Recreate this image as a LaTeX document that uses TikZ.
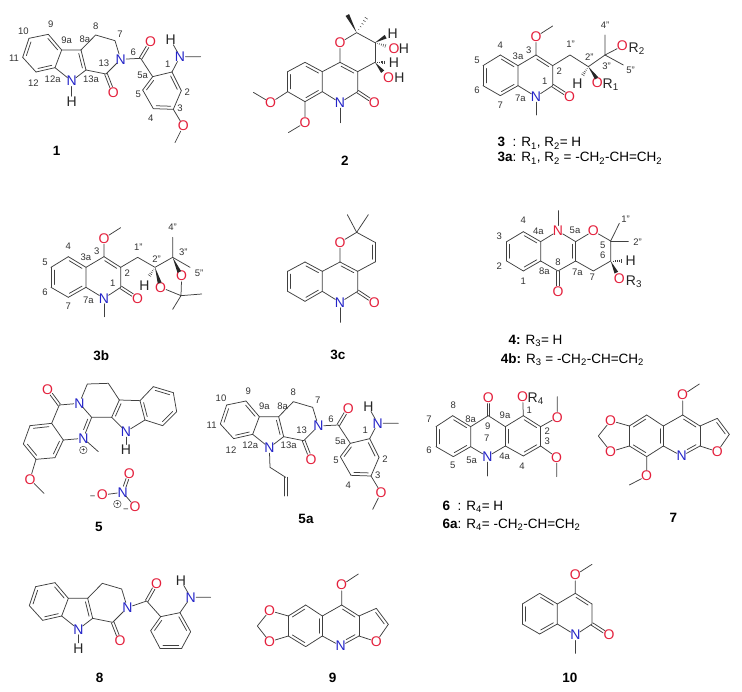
\documentclass[tikz,border=0pt]{standalone}
\usepackage{fontspec}
\setmainfont{Liberation Sans}
\usetikzlibrary{calc}
\definecolor{bondc}{HTML}{404040}
\definecolor{oxy}{HTML}{E4203C}
\definecolor{nit}{HTML}{2424C8}
\tikzset{
  bond/.style={draw=bondc,line width=.75pt,line cap=round,line join=round},
  atomK/.style={circle,inner sep=-1.2pt,font=\fontsize{14}{14}\selectfont,text=black!85},
  atomO/.style={atomK,text=oxy},
  atomN/.style={atomK,text=nit},
  atomNr/.style={atomK,text=oxy},
  num/.style={inner sep=0pt,font=\fontsize{9.5}{10}\selectfont,text=black!80},
  cpd/.style={inner sep=0pt,font=\fontsize{13.5}{14}\selectfont\bfseries},
  legend/.style={inner sep=0pt,anchor=west,font=\fontsize{13.5}{14}\selectfont},
  chg/.style={draw=bondc,line width=.5pt,circle,inner sep=0pt,minimum size=7.5pt,font=\fontsize{7}{7}\selectfont},
  mol/.style 2 args={shift={(#1pt,#2pt)},x=.33333pt,y=-.33333pt},
}
\newcounter{lab}
\newcommand\Cn[2]{\coordinate (#1) at (#2);}
\newcommand\At[4][atomK]{\node[#1] (#2) at (#3) {#4};}
\newcommand\Lb[2]{\stepcounter{lab}\node[num] (lab\thelab) at (#1) {#2};}
\newcommand\Bd[1]{\draw[bond] #1;}
\newcommand\dbL[3][]{\draw[bond] (#2)--(#3);\draw[bond,#1] ($(#2)!.14!(#3)!3pt!90:(#3)$)--($(#3)!.14!(#2)!3pt!-90:(#2)$);}
\newcommand\dbR[3][]{\draw[bond] (#2)--(#3);\draw[bond,#1] ($(#2)!.14!(#3)!3pt!-90:(#3)$)--($(#3)!.14!(#2)!3pt!90:(#2)$);}
\newcommand\dbC[3][shorten >=6pt]{\draw[bond,#1] ($(#2)!1.4pt!90:(#3)$)--($(#3)!1.4pt!-90:(#2)$);\draw[bond,#1] ($(#2)!1.4pt!-90:(#3)$)--($(#3)!1.4pt!90:(#2)$);}
\newcommand\Wdg[2]{\fill[bondc!60!black] (#1)--($(#2)!2pt!90:(#1)$)--($(#2)!2pt!-90:(#1)$)--cycle;}
\newcommand\Hsh[2]{\foreach \hh in {.18,.34,.5,.66,.82,1}{\pgfmathsetmacro\hw{\hh*2.2}\draw[bondc,line width=.5pt] ($(#1)!\hh!(#2)!\hw pt!90:(#2)$)--($(#1)!\hh!(#2)!\hw pt!-90:(#2)$);}}
% carboline part (frame of compound 1)
\newcommand\Carbo{%
 \Cn{c9}{145,103}\Cn{c10}{87,115}\Cn{c11}{68,172}\Cn{c12}{108,216}\Cn{c12a}{165,203}\Cn{c9a}{185,150}
 \Cn{c8a}{243,150}\Cn{c13a}{258,210}\Cn{c8}{287,105}\Cn{c7}{345,122}\Cn{c13}{318,222}
 \At[atomN]{ni}{215,243}{N}\At[atomN]{na}{362,178}{N}\At[atomO]{o13}{340,278}{O}
 \dbL{c9a}{c9}\Bd{(c9)--(c10)}\dbL{c10}{c11}\Bd{(c11)--(c12)}\dbL{c12}{c12a}\Bd{(c12a)--(c9a)--(c8a)}
 \dbR{c8a}{c13a}\Bd{(c13a)--(ni)--(c12a)}\Bd{(c8a)--(c8)--(c7)--(na)--(c13)--(c13a)}\dbC{c13}{o13}}
% carboxamide aryl with OMe and labels (compounds 1 and 5a)
\newcommand\Aryl{%
 \Cn{c6}{422,175}\Cn{c5a}{458,230}\Cn{c5}{428,270}\Cn{c4}{460,326}\Cn{c3}{520,328}\Cn{c2}{544,272}\Cn{c1}{516,216}
 \Cn{me}{602,170}\Cn{me3}{525,428}
 \At[atomO]{o6}{452,125}{O}\At[atomN]{nn}{540,170}{N}\At{hn}{512,120}{H}\At[atomO]{o3}{550,378}{O}
 \Bd{(na)--(c6)--(c5a)}\dbC{c6}{o6}\dbL{c5a}{c5}\Bd{(c5)--(c4)}\dbL{c4}{c3}\Bd{(c3)--(c2)}\dbL{c2}{c1}\Bd{(c1)--(c5a)}
 \Bd{(c1)--(nn)--(me)}\Bd{(nn)--(hn)}\Bd{(c3)--(o3)--(me3)}
 \Lb{152,73}{9}\Lb{70,95}{10}\Lb{42,175}{11}\Lb{100,250}{12}\Lb{158,237}{12a}\Lb{273,237}{13a}\Lb{200,120}{9a}\Lb{255,118}{8a}
 \Lb{287,78}{8}\Lb{360,102}{7}\Lb{400,157}{6}\Lb{312,190}{13}\Lb{428,225}{5a}\Lb{503,192}{1}\Lb{562,277}{2}\Lb{540,325}{3}\Lb{452,356}{4}\Lb{415,282}{5}}
% quinolone part (frame of compound 3b)
\newcommand\Quino{%
 \Cn{c4}{205,200}\Cn{c3a}{258,232}\Cn{c3}{312,200}\Cn{c2}{362,232}\Cn{c1}{362,292}\Cn{c7a}{258,292}\Cn{c7}{205,322}\Cn{c6}{153,292}\Cn{c5}{153,232}
 \Cn{nme}{312,380}\Cn{ome}{362,113}
 \At[atomO]{o1}{413,325}{O}\At[atomN]{n}{312,325}{N}\At[atomO]{o4}{312,145}{O}
 \dbL{c3a}{c4}\Bd{(c4)--(c5)}\dbL{c5}{c6}\Bd{(c6)--(c7)}\dbL{c7}{c7a}\Bd{(c7a)--(c3a)--(c3)}
 \dbR{c3}{c2}\Bd{(c2)--(c1)--(n)--(c7a)}\dbC{c1}{o1}\Bd{(n)--(nme)}\Bd{(c3)--(o4)--(ome)}}
\newcommand\QuinoLab{%
 \Lb{135,217}{5}\Lb{135,307}{6}\Lb{205,170}{4}\Lb{258,203}{3a}\Lb{290,185}{3}\Lb{382,250}{2}\Lb{338,280}{1}\Lb{265,330}{7a}\Lb{205,350}{7}}
% pyrano-quinolone part (frame of compound 2)
\newcommand\Pyrano{%
 \Cn{c2}{350,98}\Cn{c3}{405,128}\Cn{c4}{405,187}\Cn{c4a}{353,215}\Cn{c10b}{300,187}\Cn{c6}{353,275}\Cn{c6a}{247,275}\Cn{c10a}{247,215}
 \Cn{c10}{195,187}\Cn{c9}{143,215}\Cn{c8}{143,275}\Cn{c7}{195,305}\Cn{nme}{300,368}\Cn{ma}{322,45}\Cn{mb}{385,45}
 \At[atomO]{o}{300,128}{O}\At[atomN]{n}{300,308}{N}\At[atomO]{o6}{403,308}{O}
 \dbL{c10a}{c10}\Bd{(c10)--(c9)}\dbL{c9}{c8}\Bd{(c8)--(c7)}\dbL{c7}{c6a}\Bd{(c6a)--(c10a)--(c10b)}
 \dbR{c10b}{c4a}\Bd{(c4a)--(c6)--(n)--(c6a)}\dbC{c6}{o6}\Bd{(n)--(nme)}\Bd{(c10b)--(o)--(c2)--(c3)}\Bd{(c4)--(c4a)}}
% furoquinoline (frame of compound 7); the lower methoxy belongs to 7 only
\newcommand\Furo{%
 \Cn{a}{220,228}\Cn{b}{170,195}\Cn{c}{118,228}\Cn{d}{118,288}\Cn{e}{170,320}\Cn{f}{220,288}\Cn{g}{278,195}\Cn{h}{330,228}\Cn{i}{330,288}\Cn{j}{382,205}\Cn{k}{418,253}
 \Cn{m1}{328,102}\Cn{ch}{25,258}
 \At[atomN]{n}{275,318}{N}\At[atomO]{ot}{278,135}{O}\At[atomO]{ou}{62,212}{O}\At[atomO]{ol}{62,305}{O}\At[atomO]{of}{382,305}{O}
 \dbL{b}{c}\Bd{(c)--(d)}\dbL{d}{e}\Bd{(e)--(f)}\dbL{f}{a}\Bd{(a)--(b)}\Bd{(a)--(g)}\dbR{g}{h}\Bd{(h)--(i)}\dbR[shorten >=5pt]{i}{n}\Bd{(n)--(f)}
 \Bd{(h)--(j)}\dbR{j}{k}\Bd{(k)--(of)--(i)}\Bd{(g)--(ot)--(m1)}\Bd{(c)--(ou)--(ch)--(ol)--(d)}}
\begin{document}
\begin{tikzpicture}
\useasboundingbox (0pt,0pt) rectangle (742pt,-692pt);
\fill[white] (0pt,0pt) rectangle (742pt,-692pt);
% --- 1
\begin{scope}[mol={0}{0},name prefix=m1-]
 \Carbo\Aryl
 \At{hi}{215,305}{H}\Bd{(ni)--(hi)}
 \node[cpd] (name) at (170,452) {1};
\end{scope}
% --- 2
\begin{scope}[mol={240}{0},name prefix=m2-]
 \Pyrano
 \Cn{wa}{437,110}\Cn{ha}{443,140}\Cn{hb}{440,187}\Cn{wb}{428,215}\Cn{m8}{40,277}\Cn{m7}{145,398}
 \At[atomO]{oa}{462,145}{O}\At{oah}{492,145}{H}\At[atomO]{ob}{446,233}{O}\At{obh}{478,233}{H}\At{h1}{458,100}{H}\At{h2}{462,187}{H}
 \At[atomO]{o8}{92,308}{O}\At[atomO]{o7}{195,368}{O}
 \Bd{(c3)--(c4)}\Wdg{c2}{ma}\Hsh{c2}{mb}\Wdg{c3}{wa}\Hsh{c3}{ha}\Hsh{c4}{hb}\Wdg{c4}{wb}
 \Bd{(c8)--(o8)--(m8)}\Bd{(c7)--(o7)--(m7)}
 \node[cpd] (name) at (315,481) {2};
\end{scope}
% --- 3
\begin{scope}[mol={432}{11.67},name prefix=m3-]
 \Quino\QuinoLab
 \Cn{d1}{414,200}\Cn{d2}{469,235}\Cn{d3}{519,200}\Cn{m4}{519,140}\Cn{m5}{574,230}\Cn{w}{494,270}\Cn{hh1}{449,265}
 \At[atomO]{or2}{571,173}{O}\At[atomO]{or1}{496,283}{O}\At{hh}{436,285}{H}
 \At{r1}{536,290}{R\textsubscript{1}}\At{r2}{614,180}{R\textsubscript{2}}
 \Bd{(c2)--(d1)--(d2)--(d3)--(m4)}\Bd{(d3)--(m5)}\Bd{(d3)--(or2)}\Wdg{d2}{w}\Hsh{d2}{hh1}
 \Lb{416,167}{1"}\Lb{472,207}{2"}\Lb{524,235}{3"}\Lb{519,110}{4"}\Lb{596,245}{5"}
 \node[legend] (t1) at (196,465) {\textbf{3}\ \ : R\textsubscript{1}, R\textsubscript{2}= H};
 \node[legend] (t2) at (196,510) {\textbf{3a}: R\textsubscript{1}, R\textsubscript{2} = -CH\textsubscript{2}-CH=CH\textsubscript{2}};
\end{scope}
% --- 3b
\begin{scope}[mol={0}{-190},name prefix=m3b-]
 \Quino\QuinoLab
 \Cn{d1}{413,202}\Cn{d2}{465,232}\Cn{d3}{518,202}\Cn{m4}{518,142}\Cn{m5}{570,232}\Cn{ac}{543,317}\Cn{ma}{605,312}\Cn{mb}{518,358}\Cn{w1}{479,279}\Cn{w2}{538,246}\Cn{hh1}{445,262}
 \At[atomO]{oa}{482,292}{O}\At[atomO]{ob}{545,258}{O}\At{hh}{433,288}{H}
 \Bd{(c2)--(d1)--(d2)--(d3)--(m4)}\Bd{(d3)--(m5)}\Wdg{d2}{w1}\Wdg{d3}{w2}\Hsh{d2}{hh1}
 \Bd{(oa)--(ac)--(ob)}\Bd{(ac)--(ma)}\Bd{(ac)--(mb)}
 \Lb{415,172}{1"}\Lb{470,207}{2"}\Lb{550,187}{3"}\Lb{518,112}{4"}\Lb{597,250}{5"}
 \node[cpd] (name) at (304,498) {3b};
\end{scope}
% --- 3c
\begin{scope}[mol={240}{-199.67},name prefix=m3c-]
 \Pyrano
 \dbR{c3}{c4}\Bd{(c2)--(ma)}\Bd{(c2)--(mb)}
 \node[cpd] (name) at (294,466) {3c};
\end{scope}
% --- 4
\begin{scope}[mol={490}{-190},name prefix=m4-]
 \Cn{c4}{100,125}\Cn{c4a}{152,155}\Cn{c5a}{257,155}\Cn{c5}{362,153}\Cn{m1}{388,100}\Cn{m2}{415,153}\Cn{c6}{362,213}\Cn{hh1}{400,213}\Cn{w}{379,248}
 \Cn{c7}{310,243}\Cn{c7a}{257,213}\Cn{c8}{204,243}\Cn{c8a}{152,213}\Cn{c1}{100,243}\Cn{c2}{50,213}\Cn{c3}{50,155}\Cn{nme}{204,62}
 \At[atomNr]{n}{204,123}{N}\At[atomO]{o}{310,123}{O}\At[atomO]{o8}{204,305}{O}\At[atomO]{or}{388,265}{O}\At{hh}{422,213}{H}\At{r3}{432,275}{R\textsubscript{3}}
 \dbL{c4a}{c4}\Bd{(c4)--(c3)}\dbL{c3}{c2}\Bd{(c2)--(c1)}\dbL{c1}{c8a}\Bd{(c8a)--(c4a)--(n)--(c5a)}
 \dbR{c5a}{c7a}\Bd{(c7a)--(c8)--(c8a)}\dbC{c8}{o8}\Bd{(n)--(nme)}\Bd{(c5a)--(o)--(c5)--(c6)--(c7)--(c7a)}\Bd{(c5)--(m1)}\Bd{(c5)--(m2)}\Hsh{c6}{hh1}\Wdg{c6}{w}
 \Lb{100,92}{4}\Lb{28,138}{3}\Lb{28,228}{2}\Lb{100,275}{1}\Lb{145,125}{4a}\Lb{255,122}{5a}\Lb{338,167}{5}\Lb{338,197}{6}\Lb{204,218}{8}\Lb{163,243}{8a}\Lb{262,247}{7a}\Lb{307,263}{7}\Lb{407,88}{1"}\Lb{443,157}{2"}
 \node[legend] (t1) at (55,453) {\textbf{4:} R\textsubscript{3}= H};
 \node[legend] (t2) at (32,510) {\textbf{4b:} R\textsubscript{3} = -CH\textsubscript{2}-CH=CH\textsubscript{2}};
\end{scope}
% --- 5
\begin{scope}[mol={0}{-360},name prefix=m5-]
 \Cn{co}{178,135}\Cn{ch1}{262,72}\Cn{ch2}{325,70}\Cn{g}{275,172}\Cn{k}{335,172}\Cn{m}{358,120}\Cn{nn}{420,122}\Cn{oo}{435,180}\Cn{p}{488,197}\Cn{q}{530,155}\Cn{r}{520,98}\Cn{s}{460,80}
 \Cn{a}{155,190}\Cn{b}{90,197}\Cn{c}{70,252}\Cn{d}{108,298}\Cn{e}{165,293}\Cn{f}{190,240}\Cn{m1}{295,275}\Cn{m2}{132,400}
 \At[atomO]{o}{143,88}{O}\At[atomN]{na}{238,130}{N}\At[atomN]{ni}{378,215}{N}\At{hh}{378,270}{H}\At[atomN]{np}{250,235}{N}\At[atomO]{om}{90,358}{O}
 \At[atomN]{no}{368,397}{N}\At[atomO]{ot}{388,340}{O}\At[atomO]{ol}{307,405}{O}\At[atomO]{orr}{405,440}{O}
 \dbC{co}{o}\Bd{(co)--(na)--(ch1)--(ch2)--(m)}\Bd{(na)--(g)--(k)}\Bd{(co)--(a)}\dbR[shorten >=5pt]{g}{np}\Bd{(np)--(f)}
 \dbL{a}{b}\Bd{(b)--(c)}\dbL{c}{d}\Bd{(d)--(e)}\dbL{e}{f}\Bd{(f)--(a)}\Bd{(d)--(om)}\Bd{(om)--(m2)}\Bd{(np)--(m1)}
 \dbR{k}{m}\Bd{(k)--(ni)--(oo)}\Bd{(ni)--(hh)}\Bd{(m)--(nn)}\dbL{nn}{oo}\Bd{(oo)--(p)}\dbL{p}{q}\Bd{(q)--(r)}\dbL{r}{s}\Bd{(s)--(nn)}
 \dbC[shorten >=6pt,shorten <=6pt]{no}{ot}\Bd{(no)--(ol)}\Bd{(no)--(orr)}
 \node[chg] (c1) at (250,270) {+};\node[chg] (c2) at (352,432) {+};
 \node[num] (m1a) at (278,413) {−};\node[num] (m2a) at (378,453) {−};
 \node[cpd] (name) at (297,500) {5};
\end{scope}
% --- 5a
\begin{scope}[mol={197.67}{-366.67},name prefix=m5a-]
 \Carbo\Aryl
 \Cn{al1}{217,302}\Cn{al2}{264,332}\Cn{al3}{264,388}
 \Bd{(ni)--(al1)--(al2)}\dbC[]{al2}{al3}
 \node[cpd] (name) at (325,457) {5a};
\end{scope}
% --- 6
\begin{scope}[mol={380}{-350},name prefix=m6-]
 \Cn{c9}{325,197}\Cn{c9a}{376,230}\Cn{c1}{430,197}\Cn{c2}{482,230}\Cn{c3}{482,288}\Cn{c4}{430,318}\Cn{c4a}{376,288}\Cn{c5a}{272,290}\Cn{c5}{220,320}\Cn{c6}{168,290}\Cn{c7}{168,230}\Cn{c8}{218,197}\Cn{c8a}{272,230}
 \Cn{m2}{532,140}\Cn{m3}{530,380}\Cn{nme}{322,378}
 \At[atomO]{o9}{325,143}{O}\At[atomO]{o1}{428,140}{O}\At{r4}{467,147}{R\textsubscript{4}}\At[atomO]{o2}{532,202}{O}\At[atomO]{o3}{530,322}{O}\At[atomN]{n}{322,320}{N}
 \dbL{c8a}{c8}\Bd{(c8)--(c7)}\dbL{c7}{c6}\Bd{(c6)--(c5)}\dbL{c5}{c5a}\Bd{(c5a)--(c8a)--(c9)--(c9a)}\dbC{c9}{o9}\Bd{(c5a)--(n)--(c4a)}\Bd{(n)--(nme)}
 \dbL{c9a}{c4a}\Bd{(c4a)--(c4)}\dbL{c4}{c3}\Bd{(c3)--(c2)}\dbL{c2}{c1}\Bd{(c1)--(c9a)}\Bd{(c1)--(o1)}\Bd{(c2)--(o2)--(m2)}\Bd{(c3)--(o3)--(m3)}
 \Lb{220,167}{8}\Lb{147,208}{7}\Lb{147,300}{6}\Lb{218,346}{5}\Lb{275,330}{5a}\Lb{272,207}{8a}\Lb{323,230}{9}\Lb{320,265}{7}\Lb{374,320}{4a}\Lb{426,350}{4}\Lb{375,197}{9a}\Lb{448,182}{1}\Lb{502,245}{2}\Lb{502,273}{3}
 \node[legend] (t1) at (187,470) {\textbf{6}\ \ : R\textsubscript{4}= H};
 \node[legend] (t2) at (187,525) {\textbf{6a}: R\textsubscript{4}= -CH\textsubscript{2}-CH=CH\textsubscript{2}};
\end{scope}
% --- 7
\begin{scope}[mol={590}{-350},name prefix=m7-]
 \Furo
 \Cn{m2}{118,405}
 \At[atomO]{ob}{170,378}{O}
 \Bd{(e)--(ob)--(m2)}
 \node[cpd] (name) at (250,505) {7};
\end{scope}
% --- 8
\begin{scope}[mol={6.67}{-548.33},name prefix=m8-]
 \Carbo
 \Cn{c6}{420,158}\Cn{c5a}{462,205}\Cn{c1}{520,193}\Cn{c2}{552,250}\Cn{c3}{525,300}\Cn{c4}{460,300}\Cn{c5}{432,247}\Cn{me}{612,147}
 \At[atomO]{o6}{450,105}{O}\At[atomN]{nn}{552,147}{N}\At{hn}{523,97}{H}\At{hi}{215,300}{H}
 \Bd{(ni)--(hi)}\Bd{(na)--(c6)--(c5a)}\dbC{c6}{o6}\dbL{c5a}{c5}\Bd{(c5)--(c4)}\dbL{c4}{c3}\Bd{(c3)--(c2)}\dbL{c2}{c1}\Bd{(c1)--(c5a)}
 \Bd{(c1)--(nn)--(me)}\Bd{(nn)--(hn)}
 \node[cpd] (name) at (279,388) {8};
\end{scope}
% --- 9
\begin{scope}[mol={249}{-540},name prefix=m9-]
 \Furo
 \node[cpd] (name) at (251,413) {9};
\end{scope}
% --- 10
\begin{scope}[mol={471.33}{-526.67},name prefix=m10-]
 \Quino
 \node[cpd] (name) at (296,453) {10};
\end{scope}
\end{tikzpicture}
\end{document}
